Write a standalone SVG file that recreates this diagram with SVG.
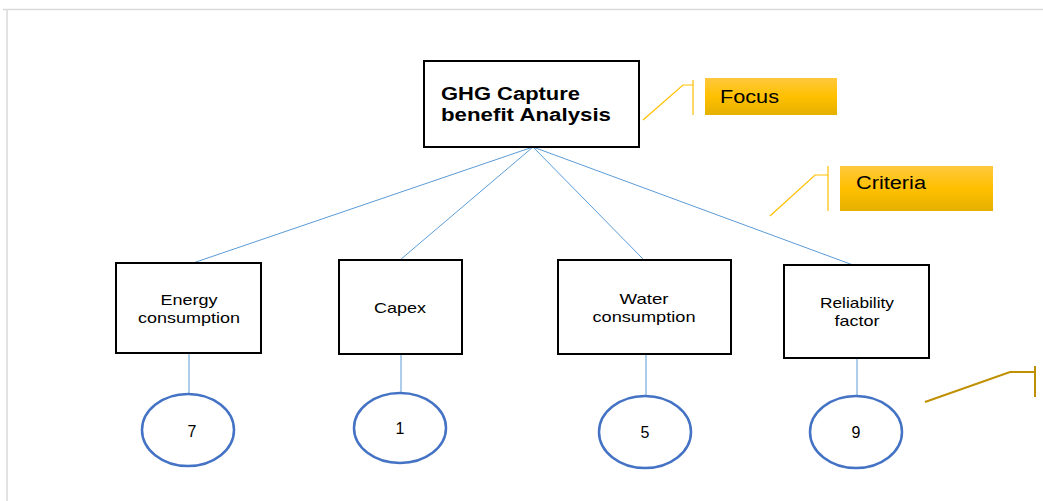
<svg xmlns="http://www.w3.org/2000/svg" width="1043" height="501" viewBox="0 0 1043 501">
<style>
.box{fill:#fff;stroke:#000;stroke-width:2}
.lbl{font-family:"Liberation Sans",Arial,sans-serif;font-size:15px;fill:#000;text-anchor:middle}
.num{font-family:"Liberation Sans",Arial,sans-serif;font-size:16px;fill:#000;text-anchor:middle}
.circ{fill:#fff;stroke:#4472C4;stroke-width:2.5}
.con{stroke:#5B9BD5;stroke-width:1;fill:none}
.call{stroke:#FFC000;stroke-width:1.2;fill:none}
.tag{font-family:"Liberation Sans",Arial,sans-serif;font-size:18px;fill:#000}
.head{font-family:"Liberation Sans",Arial,sans-serif;font-size:18px;font-weight:bold;fill:#000}
</style>
<defs>
<linearGradient id="gold" x1="0" y1="0" x2="0" y2="1">
<stop offset="0" stop-color="#FFC83D"/>
<stop offset="0.5" stop-color="#FFC000"/>
<stop offset="1" stop-color="#E5B000"/>
</linearGradient>
</defs>
<rect width="1043" height="501" fill="#fff"/>
<path d="M3 9.5H1043M7 9.5V501" stroke="#D9D9D9" stroke-width="1.5" fill="none"/>
<g id="connectors">
<line class="con" x1="533" y1="147" x2="193" y2="263"/>
<line class="con" x1="533" y1="147" x2="400" y2="260"/>
<line class="con" x1="533" y1="147" x2="644" y2="260"/>
<line class="con" x1="533" y1="147" x2="853" y2="265"/>
<line class="con" x1="189" y1="353" x2="189" y2="394"/>
<line class="con" x1="401" y1="354" x2="401" y2="392"/>
<line class="con" x1="646" y1="354" x2="646" y2="395"/>
<line class="con" x1="857" y1="358" x2="857" y2="396"/>
</g>
<g id="goal">
<rect class="box" x="424" y="61" width="215" height="86"/>
<text class="head" x="441" y="100" textLength="139" lengthAdjust="spacingAndGlyphs">GHG Capture</text>
<text class="head" x="441" y="121" textLength="170" lengthAdjust="spacingAndGlyphs">benefit Analysis</text>
</g>
<g id="focus">
<polyline class="call" points="643,120 683,85 693,85"/>
<line class="call" x1="693" y1="80" x2="693" y2="115"/>
<rect x="705" y="78" width="132" height="37" fill="url(#gold)"/>
<text class="tag" x="720" y="103" textLength="59" lengthAdjust="spacingAndGlyphs">Focus</text>
</g>
<g id="criteria">
<polyline class="call" points="770,216 815,175 828,175"/>
<line class="call" x1="828" y1="166" x2="828" y2="211"/>
<rect x="840" y="166" width="153" height="45" fill="url(#gold)"/>
<text class="tag" x="856" y="189" textLength="70" lengthAdjust="spacingAndGlyphs">Criteria</text>
</g>
<g id="callout3">
<polyline points="925,402 1010,372 1035,372" stroke="#BF9000" stroke-width="2" fill="none"/>
<line x1="1035" y1="366" x2="1035" y2="397" stroke="#BF9000" stroke-width="2"/>
</g>
<g id="energy">
<rect class="box" x="116" y="263" width="145" height="90"/>
<text class="lbl" x="189" y="305" textLength="57" lengthAdjust="spacingAndGlyphs">Energy</text>
<text class="lbl" x="189" y="323" textLength="102" lengthAdjust="spacingAndGlyphs">consumption</text>
</g>
<g id="capex">
<rect class="box" x="339" y="260" width="123" height="94"/>
<text class="lbl" x="400" y="313" textLength="52" lengthAdjust="spacingAndGlyphs">Capex</text>
</g>
<g id="water">
<rect class="box" x="558" y="260" width="173" height="94"/>
<text class="lbl" x="644" y="304" textLength="49" lengthAdjust="spacingAndGlyphs">Water</text>
<text class="lbl" x="644" y="322" textLength="103" lengthAdjust="spacingAndGlyphs">consumption</text>
</g>
<g id="reliability">
<rect class="box" x="784" y="265" width="145" height="93"/>
<text class="lbl" x="857" y="308" textLength="74" lengthAdjust="spacingAndGlyphs">Reliability</text>
<text class="lbl" x="857" y="326" textLength="45" lengthAdjust="spacingAndGlyphs">factor</text>
</g>
<g id="score7">
<ellipse class="circ" cx="188" cy="430" rx="46" ry="36"/>
<text class="num" x="192" y="437">7</text>
</g>
<g id="score1">
<ellipse class="circ" cx="400" cy="428" rx="46" ry="35"/>
<text class="num" x="400" y="434">1</text>
</g>
<g id="score5">
<ellipse class="circ" cx="645" cy="432" rx="46" ry="36"/>
<text class="num" x="645" y="438">5</text>
</g>
<g id="score9">
<ellipse class="circ" cx="856" cy="432" rx="46" ry="36"/>
<text class="num" x="856" y="438">9</text>
</g>
</svg>
